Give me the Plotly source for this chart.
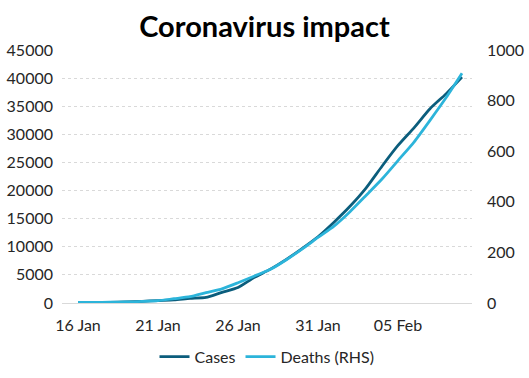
import plotly.graph_objects as go
import pandas as pd

dates = pd.date_range("2020-01-16", "2020-02-09", freq="D")
cases = [45, 62, 121, 198, 291, 440, 571, 830, 1000, 1900, 2744, 4515, 5974, 7711,
         9692, 11791, 14380, 17205, 20438, 24324, 28018, 31161, 34546, 37198, 40171]
deaths = [2, 2, 3, 4, 6, 9, 17, 25, 41, 56, 80, 106, 132, 170, 213, 259, 304, 361,
          425, 490, 563, 636, 722, 811, 908]

fig = go.Figure()
fig.add_trace(go.Scatter(x=dates, y=cases, name="Cases", mode="lines",
                         line=dict(color="#0b5d7c", width=2.75, shape="spline", smoothing=0.6)))
fig.add_trace(go.Scatter(x=dates, y=deaths, name="Deaths (RHS)", mode="lines", yaxis="y2",
                         line=dict(color="#2cb4da", width=2.75, shape="spline", smoothing=0.6)))

font_fam = "Lato, Open Sans, sans-serif"
tf = dict(family=font_fam, size=16, color="#262626")
fig.update_layout(
    width=529, height=378,
    margin=dict(l=62, r=57, t=50, b=75, autoexpand=False),
    paper_bgcolor="white", plot_bgcolor="white",
    title=dict(text="<b>Coronavirus impact</b>", x=0.5, xanchor="center", xref="container",
               y=0.928, yanchor="middle",
               font=dict(family="Lato, DejaVu Sans, sans-serif", size=29, color="black")),
    font=tf,
    xaxis=dict(type="date", range=["2020-01-15", "2020-02-09 15:00"],
               tick0="2020-01-16", dtick=5 * 86400000, tickformat="%d %b",
               showgrid=False, showline=True, linecolor="#d9d9d9", ticks="",
               ticklabelstandoff=8, tickfont=tf, automargin=False),
    yaxis=dict(range=[0, 45000], dtick=5000, tickformat="d", showgrid=True, gridcolor="#d9d9d9",
               griddash="dot", zeroline=False, ticks="", ticklabelstandoff=8, tickfont=tf,
               automargin=False),
    yaxis2=dict(range=[0, 1000], dtick=200, tickformat="d", overlaying="y", side="right",
                showgrid=False, zeroline=False, ticks="", ticklabelstandoff=14, tickfont=tf,
                automargin=False),
    legend=dict(orientation="h", x=0.5, xanchor="center", y=-0.145, yanchor="top",
                font=tf, itemwidth=30, tracegroupgap=0),
    showlegend=True,
)

fig.write_html("out.html", config={"displayModeBar": False},
               post_script="document.body.style.margin='0';")
